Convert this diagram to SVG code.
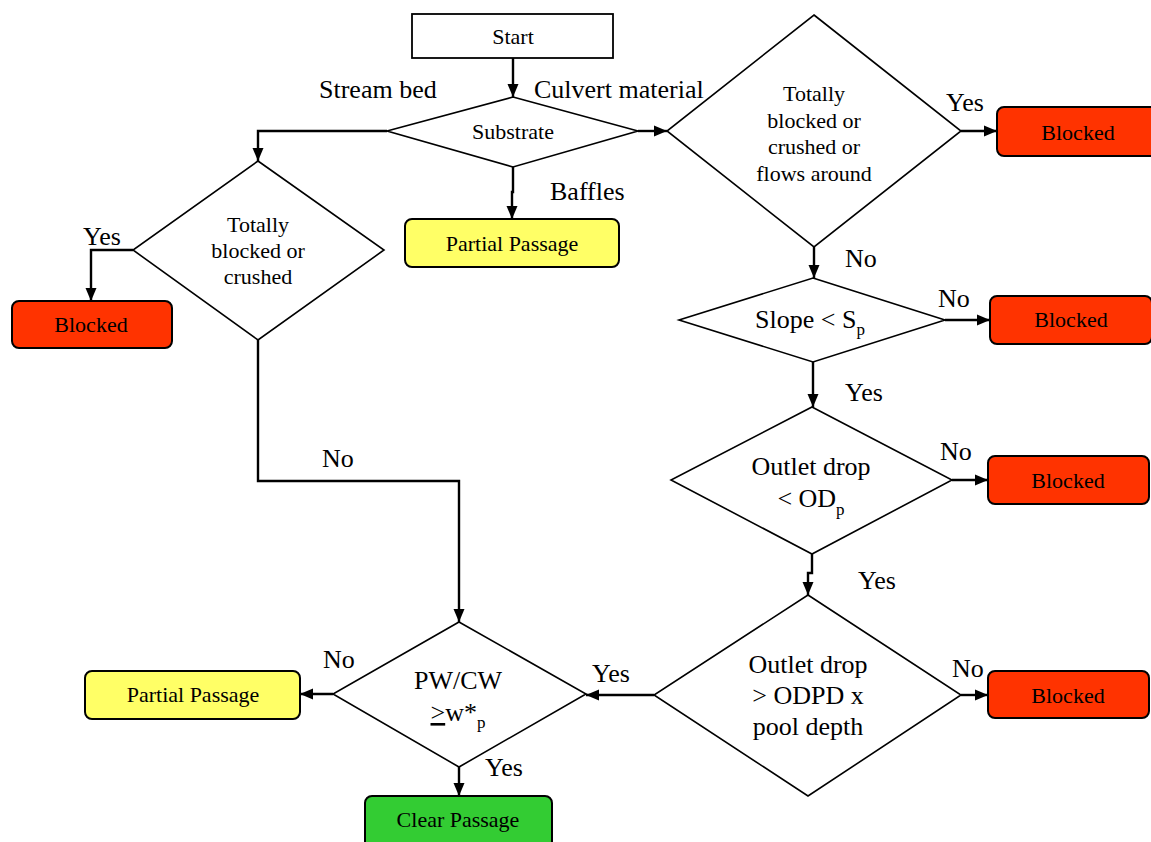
<svg xmlns="http://www.w3.org/2000/svg" width="1151" height="842" viewBox="0 0 1151 842">
<style>
text{font-family:"Liberation Serif","Times New Roman",serif;fill:#000}
.s{font-size:22px;text-anchor:middle}
.b{font-size:26px;text-anchor:middle}
.l{font-size:26px}
.dia{fill:#fff;stroke:#000;stroke-width:1.6}
.box{stroke:#000;stroke-width:2}
.red{fill:#FF3300}
.yel{fill:#FFFF66}
.grn{fill:#33CC33}
.con path{fill:none;stroke:#000;stroke-width:2.4}
</style>
<defs>
<marker id="ah" markerUnits="userSpaceOnUse" markerWidth="14" markerHeight="14" viewBox="0 0 14 14" refX="13" refY="7" orient="auto">
<path d="M0,1.5 L13,7 L0,12.5 Z" fill="#000"/>
</marker>
</defs>
<rect width="1151" height="842" fill="#fff"/>
<g class="con">
<path d="M513,58 V97" marker-end="url(#ah)"/>
<path d="M387,131 H258 V161" marker-end="url(#ah)"/>
<path d="M513,167 V192 H512 V219" marker-end="url(#ah)"/>
<path d="M638,131 H667" marker-end="url(#ah)"/>
<path d="M961,131 H997" marker-end="url(#ah)"/>
<path d="M814,247 V278" marker-end="url(#ah)"/>
<path d="M945,320 H990" marker-end="url(#ah)"/>
<path d="M813,362 V407" marker-end="url(#ah)"/>
<path d="M952,480 H988" marker-end="url(#ah)"/>
<path d="M812,554 V573 H808 V595" marker-end="url(#ah)"/>
<path d="M961,695 H988" marker-end="url(#ah)"/>
<path d="M654,695 H586" marker-end="url(#ah)"/>
<path d="M133,250 H91 V301" marker-end="url(#ah)"/>
<path d="M258,340 V481 H459 V622" marker-end="url(#ah)"/>
<path d="M333,694 H300" marker-end="url(#ah)"/>
<path d="M459,767 V796" marker-end="url(#ah)"/>
<text class="l" x="319" y="98">Stream bed</text>
<text class="l" x="534" y="98">Culvert material</text>
<text class="l" x="550" y="200">Baffles</text>
<text class="l" x="946" y="111">Yes</text>
<text class="l" x="845" y="267">No</text>
<text class="l" x="938" y="307">No</text>
<text class="l" x="845" y="401">Yes</text>
<text class="l" x="940" y="460">No</text>
<text class="l" x="858" y="589">Yes</text>
<text class="l" x="952" y="677">No</text>
<text class="l" x="592" y="682">Yes</text>
<text class="l" x="323" y="668">No</text>
<text class="l" x="485" y="776">Yes</text>
<text class="l" x="83" y="245">Yes</text>
<text class="l" x="322" y="467">No</text>
</g>
<g id="start">
<rect x="412" y="14" width="201" height="44" fill="#fff" stroke="#000" stroke-width="1.8"/>
<text class="s" x="513" y="44">Start</text>
</g>
<g id="substrate">
<polygon class="dia" points="513,97 638,131 513,167 387,131"/>
<text class="s" x="513" y="139">Substrate</text>
</g>
<g id="partial1">
<rect class="box yel" x="405" y="219" width="214" height="48" rx="7"/>
<text class="s" x="512" y="251">Partial Passage</text>
</g>
<g id="dec-culvert">
<polygon class="dia" points="814,15 961,131 814,247 667,131"/>
<text class="s" x="814" y="101">Totally</text>
<text class="s" x="814" y="128">blocked or</text>
<text class="s" x="814" y="154">crushed or</text>
<text class="s" x="814" y="181">flows around</text>
</g>
<g id="blocked1">
<rect class="box red" x="997" y="107" width="162" height="49" rx="7"/>
<text class="s" x="1078" y="140">Blocked</text>
</g>
<g id="dec-slope">
<polygon class="dia" points="813,278 945,320 813,362 679,320"/>
<text class="b" x="810" y="328">Slope &lt; S<tspan font-size="17" dy="7">p</tspan></text>
</g>
<g id="blocked2">
<rect class="box red" x="990" y="296" width="162" height="48" rx="7"/>
<text class="s" x="1071" y="327">Blocked</text>
</g>
<g id="dec-outlet">
<polygon class="dia" points="812,407 952,480 812,554 671,480"/>
<text class="b" x="811" y="475">Outlet drop</text>
<text class="b" x="811" y="507">&lt; OD<tspan font-size="17" dy="8">p</tspan></text>
</g>
<g id="blocked3">
<rect class="box red" x="988" y="456" width="161" height="48" rx="7"/>
<text class="s" x="1068" y="488">Blocked</text>
</g>
<g id="dec-odpd">
<polygon class="dia" points="808,595 961,695 808,796 654,695"/>
<text class="b" x="808" y="673">Outlet drop</text>
<text class="b" x="808" y="704">&gt; ODPD x</text>
<text class="b" x="808" y="735">pool depth</text>
</g>
<g id="blocked4">
<rect class="box red" x="988" y="671" width="161" height="47" rx="7"/>
<text class="s" x="1068" y="703">Blocked</text>
</g>
<g id="dec-left">
<polygon class="dia" points="258,161 384,250 258,340 133,250"/>
<text class="s" x="258" y="232">Totally</text>
<text class="s" x="258" y="258">blocked or</text>
<text class="s" x="258" y="284">crushed</text>
</g>
<g id="blocked5">
<rect class="box red" x="12" y="301" width="160" height="47" rx="7"/>
<text class="s" x="91" y="332">Blocked</text>
</g>
<g id="dec-pw">
<polygon class="dia" points="459,622 586,694 459,767 333,694"/>
<text class="b" x="458" y="689">PW/CW</text>
<text class="b" x="458" y="721"><tspan text-decoration="underline">&gt;</tspan>w*<tspan font-size="17" dy="7">p</tspan></text>
</g>
<g id="partial2">
<rect class="box yel" x="85" y="671" width="215" height="48" rx="7"/>
<text class="s" x="193" y="702">Partial Passage</text>
</g>
<g id="clear">
<rect class="box grn" x="365" y="796" width="187" height="52" rx="7"/>
<text class="s" x="458" y="827">Clear Passage</text>
</g>
</svg>
